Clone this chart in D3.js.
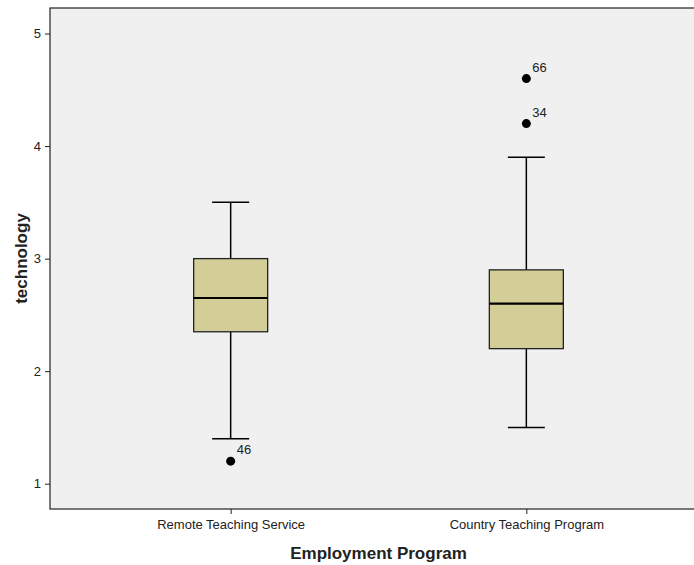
<!DOCTYPE html>
<html>
<head>
<meta charset="utf-8">
<script src="https://cdn.jsdelivr.net/npm/d3@7"></script>
<style>
  html, body { margin: 0; padding: 0; background: #fff; }
  svg { display: block; font-family: "Liberation Sans", Arial, sans-serif; }
</style>
</head>
<body>
<svg id="chart" width="694" height="565"></svg>
<script>
// Technology scores by employment program (box summaries)
const categories = ["Remote Teaching Service", "Country Teaching Program"];
const whiskerLow  = [1.4, 1.5];
const q1          = [2.35, 2.2];
const median      = [2.65, 2.6];
const q3          = [3.0, 2.9];
const whiskerHigh = [3.5, 3.9];
const outlierGroup = [0, 1, 1];
const outlierValue = [1.2, 4.2, 4.6];
const outlierCase  = ["46", "34", "66"];
const yTicks = [1, 2, 3, 4, 5];

const svg = d3.select("#chart");
const plotLeft = 50, plotRight = 707, plotTop = 8, plotBottom = 509;

const x = d3.scalePoint().domain(categories).range([plotLeft, plotRight]).padding(0.611);
const y = d3.scaleLinear().domain([0.775, 5.227]).range([plotBottom, plotTop]);

// plot background
svg.append("rect")
  .attr("x", plotLeft).attr("y", plotTop)
  .attr("width", plotRight - plotLeft).attr("height", plotBottom - plotTop)
  .attr("fill", "#f0f0f0")
  .attr("stroke", "#222").attr("stroke-width", 1.2);

// y axis
const yAxis = svg.append("g")
  .attr("transform", `translate(${plotLeft},0)`)
  .call(d3.axisLeft(y).tickValues(yTicks).tickSize(5).tickFormat(d3.format("d")));
yAxis.select(".domain").remove();
yAxis.selectAll("line").attr("stroke", "#222");
yAxis.selectAll("text").attr("font-size", 13).attr("fill", "#222")
  .attr("font-family", "Liberation Sans, Arial, sans-serif").attr("dx", "-1");

// x axis
const xAxis = svg.append("g")
  .attr("transform", `translate(0,${plotBottom})`)
  .call(d3.axisBottom(x).tickSize(5));
xAxis.select(".domain").remove();
xAxis.selectAll("line").attr("stroke", "#222");
xAxis.selectAll("text").attr("font-size", 13).attr("fill", "#222")
  .attr("font-family", "Liberation Sans, Arial, sans-serif").attr("dy", "0.95em");

// boxes
const boxW = 74, capW = 37;
const boxes = svg.append("g").selectAll("g").data(categories).join("g")
  .attr("transform", d => `translate(${x(d)},0)`);

boxes.append("line")
  .attr("x1", 0).attr("x2", 0)
  .attr("y1", (d, i) => y(whiskerHigh[i])).attr("y2", (d, i) => y(q3[i]))
  .attr("stroke", "#000").attr("stroke-width", 1.5);
boxes.append("line")
  .attr("x1", 0).attr("x2", 0)
  .attr("y1", (d, i) => y(q1[i])).attr("y2", (d, i) => y(whiskerLow[i]))
  .attr("stroke", "#000").attr("stroke-width", 1.5);
boxes.append("line")
  .attr("x1", -capW / 2).attr("x2", capW / 2)
  .attr("y1", (d, i) => y(whiskerHigh[i])).attr("y2", (d, i) => y(whiskerHigh[i]))
  .attr("stroke", "#000").attr("stroke-width", 1.5);
boxes.append("line")
  .attr("x1", -capW / 2).attr("x2", capW / 2)
  .attr("y1", (d, i) => y(whiskerLow[i])).attr("y2", (d, i) => y(whiskerLow[i]))
  .attr("stroke", "#000").attr("stroke-width", 1.5);
boxes.append("rect")
  .attr("x", -boxW / 2).attr("width", boxW)
  .attr("y", (d, i) => y(q3[i]))
  .attr("height", (d, i) => y(q1[i]) - y(q3[i]))
  .attr("fill", "#d3ce98").attr("stroke", "#222").attr("stroke-width", 1.3);
boxes.append("line")
  .attr("x1", -boxW / 2).attr("x2", boxW / 2)
  .attr("y1", (d, i) => y(median[i])).attr("y2", (d, i) => y(median[i]))
  .attr("stroke", "#000").attr("stroke-width", 2.2);

// outliers
const outliers = svg.append("g").selectAll("g").data(outlierValue).join("g")
  .attr("transform", (v, i) => `translate(${x(categories[outlierGroup[i]])},${y(v)})`);
outliers.append("circle").attr("r", 4.5).attr("fill", "#000");
outliers.append("text")
  .attr("x", 6).attr("y", -7)
  .attr("font-size", 13).attr("fill", "#222")
  .text((v, i) => outlierCase[i]);

// axis titles
svg.append("text")
  .attr("x", (plotLeft + plotRight) / 2).attr("y", 559)
  .attr("text-anchor", "middle")
  .attr("font-size", 17).attr("font-weight", "bold").attr("fill", "#222")
  .text("Employment Program");
svg.append("text")
  .attr("transform", `translate(27,${(plotTop + plotBottom) / 2}) rotate(-90)`)
  .attr("text-anchor", "middle")
  .attr("font-size", 17).attr("font-weight", "bold").attr("fill", "#222")
  .text("technology");
</script>
</body>
</html>
